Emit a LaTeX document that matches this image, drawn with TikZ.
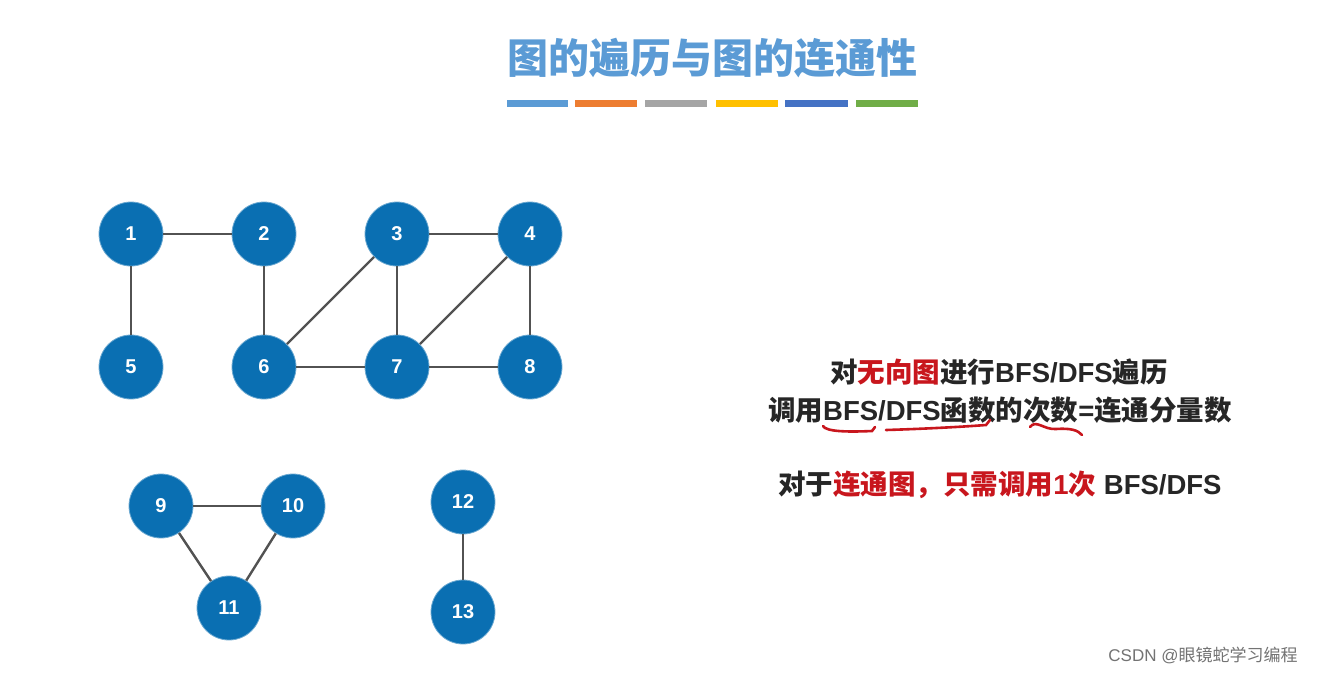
\documentclass[tikz,border=0pt]{standalone}
\usepackage{fontspec}
\setmainfont{Liberation Sans}
\newfontfamily\cjk{Noto Sans CJK SC}
\usepackage{tikz}
\definecolor{vtx}{HTML}{0A6FB2}
\definecolor{ttl}{HTML}{5B9BD5}
\definecolor{hl}{HTML}{C8161D}
\newcommand{\zh}[1]{{\cjk #1}}
\tikzset{
    vert/.style={circle, fill=vtx, draw=vtx!60!white, line width=0.8pt, minimum size=64pt, inner sep=0pt, text=white, font=\fontsize{20}{20}\selectfont\bfseries},
    edge/.style={line width=2.4pt, draw=black!68},
    bar/.style={line width=7pt},
    txt/.style={font=\fontsize{27.5}{27.5}\selectfont\bfseries, text=black!85, inner sep=0pt},
    squig/.style={hl, line width=2.6pt, line cap=round}
}
\begin{document}
\begin{tikzpicture}[x=1pt, y=-1pt]
        \useasboundingbox[fill=white] (0,0) rectangle (1324,674);
        % title
        \node (title) at (712,58) {\fontsize{41}{41}\selectfont\cjk\bfseries\color{ttl}图的遍历与图的连通性};
        \draw[bar, draw={rgb,255:red,91;green,155;blue,213}] (507,104) -- (568,104);
        \draw[bar, draw={rgb,255:red,237;green,125;blue,49}] (575,104) -- (637,104);
        \draw[bar, draw={rgb,255:red,165;green,165;blue,165}] (645,104) -- (707,104);
        \draw[bar, draw={rgb,255:red,255;green,192;blue,0}] (716,104) -- (778,104);
        \draw[bar, draw={rgb,255:red,68;green,114;blue,196}] (785,104) -- (848,104);
        \draw[bar, draw={rgb,255:red,112;green,173;blue,71}] (856,104) -- (918,104);
        % vertices
        \node[vert] (n1) at (131,234) {1};
        \node[vert] (n2) at (264,234) {2};
        \node[vert] (n3) at (397,234) {3};
        \node[vert] (n4) at (530,234) {4};
        \node[vert] (n5) at (131,367) {5};
        \node[vert] (n6) at (264,367) {6};
        \node[vert] (n7) at (397,367) {7};
        \node[vert] (n8) at (530,367) {8};
        \node[vert] (n9) at (161,506) {9};
        \node[vert] (n10) at (293,506) {10};
        \node[vert] (n11) at (229,608) {11};
        \node[vert] (n12) at (463,502) {12};
        \node[vert] (n13) at (463,612) {13};
        % edges
        \draw[edge] (n1) -- (n2);
        \draw[edge] (n1) -- (n5);
        \draw[edge] (n2) -- (n6);
        \draw[edge] (n3) -- (n6);
        \draw[edge] (n3) -- (n4);
        \draw[edge] (n3) -- (n7);
        \draw[edge] (n4) -- (n7);
        \draw[edge] (n4) -- (n8);
        \draw[edge] (n6) -- (n7);
        \draw[edge] (n7) -- (n8);
        \draw[edge] (n9) -- (n10);
        \draw[edge] (n9) -- (n11);
        \draw[edge] (n10) -- (n11);
        \draw[edge] (n12) -- (n13);
        % explanation
        \node[txt] (l1) at (999,372) {\zh{对}\textcolor{hl}{\zh{无向图}}\zh{进行}BFS/DFS\zh{遍历}};
        \node[txt] (l2) at (1000,410) {\zh{调用}BFS/DFS\zh{函数的次数}=\zh{连通分量数}};
        \node[txt] (l3) at (1000,485) {\zh{对于}\textcolor{hl}{\zh{连通图，只需调用}1\zh{次}} BFS/DFS};
        \draw[squig] (823,426) .. controls (826,432) and (850,432) .. (872,431) -- (875,427);
        \draw[squig] (886,430) .. controls (920,429) and (960,427) .. (986,425) -- (990,420);
        \draw[squig] (1030,427) .. controls (1036,419) and (1044,430) .. (1056,429) .. controls (1070,428) and (1078,430) .. (1082,435);
        \node[font=\fontsize{17}{17}\selectfont, text=black!55] (wm) at (1203,655) {CSDN @\zh{眼镜蛇学习编程}};
    \end{tikzpicture}
\end{document}
